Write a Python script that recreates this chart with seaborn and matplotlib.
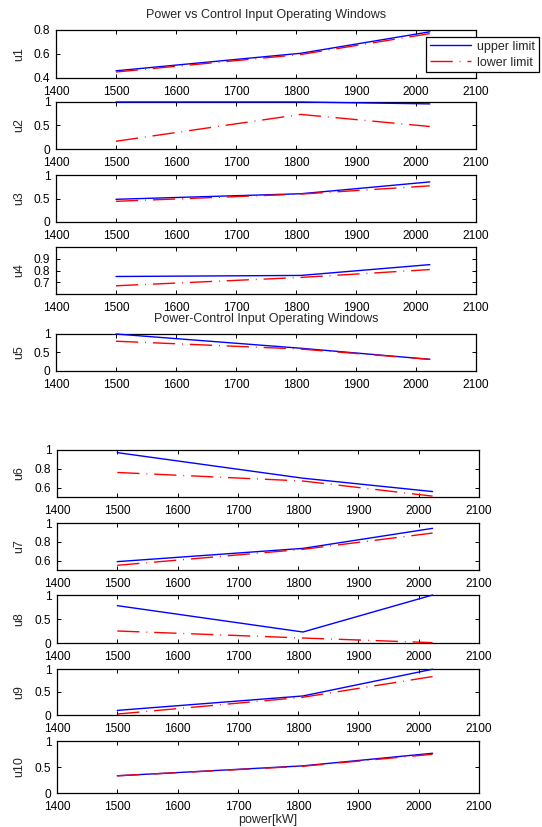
import matplotlib
matplotlib.use("Agg")
import matplotlib.pyplot as plt
import seaborn as sns
import pandas as pd
from matplotlib.lines import Line2D

# ---------------- data ----------------
power = [1500, 1808, 2023]

u1_upper = [0.46, 0.606, 0.785]
u1_lower = [0.45, 0.596, 0.77]
u2_upper = [1.0, 1.0, 0.96]
u2_lower = [0.165, 0.736, 0.479]
u3_upper = [0.483, 0.601, 0.853]
u3_lower = [0.44, 0.594, 0.769]
u4_upper = [0.749, 0.758, 0.85]
u4_lower = [0.67, 0.741, 0.808]
u5_upper = [1.0, 0.615, 0.315]
u5_lower = [0.805, 0.593, 0.315]
u6_upper = [0.972, 0.70, 0.558]
u6_lower = [0.761, 0.67, 0.509]
u7_upper = [0.589, 0.73, 0.943]
u7_lower = [0.55, 0.72, 0.893]
u8_upper = [0.778, 0.229, 1.0]
u8_lower = [0.25, 0.104, 0.007]
u9_upper = [0.10, 0.414, 0.995]
u9_lower = [0.02, 0.386, 0.836]
u10_upper = [0.331, 0.522, 0.764]
u10_lower = [0.331, 0.515, 0.745]

names = ["u1", "u2", "u3", "u4", "u5", "u6", "u7", "u8", "u9", "u10"]
uppers = [u1_upper, u2_upper, u3_upper, u4_upper, u5_upper,
          u6_upper, u7_upper, u8_upper, u9_upper, u10_upper]
lowers = [u1_lower, u2_lower, u3_lower, u4_lower, u5_lower,
          u6_lower, u7_lower, u8_lower, u9_lower, u10_lower]

ylims = [(0.4, 0.8), (0, 1), (0, 1), (0.6, 1.0), (0, 1),
         (0.5, 1.0), (0.5, 1.0), (0, 1), (0, 1), (0, 1)]
yticks = [[0.4, 0.6, 0.8], [0, 0.5, 1], [0, 0.5, 1], [0.7, 0.8, 0.9], [0, 0.5, 1],
          [0.6, 0.8, 1], [0.6, 0.8, 1], [0, 0.5, 1], [0, 0.5, 1], [0, 0.5, 1]]
yticklabels = [["0.4", "0.6", "0.8"], ["0", "0.5", "1"], ["0", "0.5", "1"],
               ["0.7", "0.8", "0.9"], ["0", "0.5", "1"], ["0.6", "0.8", "1"],
               ["0.6", "0.8", "1"], ["0", "0.5", "1"], ["0", "0.5", "1"], ["0", "0.5", "1"]]
xticks = [1400, 1500, 1600, 1700, 1800, 1900, 2000, 2100]
xticklabels = ["1400", "1500", "1600", "1700", "1800", "1900", "2000", "2100"]

title_top = "Power vs Control Input Operating Windows"
title_mid = "Power-Control Input Operating Windows"
xlabel = "power[kW]"
legend_labels = ["upper limit", "lower limit"]

# ---------------- style ----------------
sns.set_theme(style="white")
plt.rcParams["font.family"] = ["Liberation Sans", "DejaVu Sans"]
plt.rcParams["font.size"] = 8.5

W, H = 542, 827
fig = plt.figure(figsize=(W / 100, H / 100), dpi=100)
fig.patch.set_facecolor("white")

# pixel boxes (left, right, top, bottom)
boxes = [(56, 476, 30, 78), (56, 476, 102, 149), (56, 476, 175, 222),
         (56, 476, 247, 294), (56, 476, 334, 371),
         (57, 479, 450, 497), (57, 479, 523, 570), (57, 479, 595, 643),
         (57, 479, 669, 715), (57, 479, 741, 793)]

dashdot = (0, (16, 5, 0.6, 5))
axes = []
for i, (l, r, t, b) in enumerate(boxes):
    ax = fig.add_axes([l / W, 1 - b / H, (r - l) / W, (b - t) / H])
    df = pd.DataFrame({"power": power, "upper": uppers[i], "lower": lowers[i]})
    sns.lineplot(data=df, x="power", y="upper", ax=ax, color=(0, 0, 1),
                 linewidth=1.0, legend=False, zorder=3, clip_on=False)
    sns.lineplot(data=df, x="power", y="lower", ax=ax, color=(1, 0, 0),
                 linewidth=1.0, linestyle=dashdot, legend=False, zorder=3,
                 clip_on=False)
    ax.set_xlim(1400, 2100)
    ax.set_ylim(*ylims[i])
    ax.set_xticks(xticks)
    ax.set_xticklabels(xticklabels)
    ax.set_yticks(yticks[i])
    ax.set_yticklabels(yticklabels[i])
    ax.set_xlabel("")
    ax.set_ylabel(names[i], fontsize=9)
    ax.yaxis.set_label_coords((25 - l) / (r - l), 0.5)
    ax.tick_params(direction="in", length=3, width=0.7, top=True, right=True,
                   bottom=True, left=True, labelsize=8.6, colors="black")
    ax.tick_params(axis="x", pad=5.5)
    ax.tick_params(axis="y", pad=4)
    for s in ax.spines.values():
        s.set_visible(True)
        s.set_color("black")
        s.set_linewidth(0.9)
    ax.set_facecolor("white")
    ax.grid(False)
    axes.append(ax)

axes[-1].set_xlabel(xlabel, fontsize=9, labelpad=1)

fig.text(266 / W, 1 - 15 / H, title_top, ha="center", va="center", fontsize=9)
fig.text(266 / W, 1 - 319 / H, title_mid, ha="center", va="center", fontsize=9)

handles = [Line2D([], [], color=(0, 0, 1), linewidth=1.0),
           Line2D([], [], color=(1, 0, 0), linewidth=1.0, linestyle=dashdot)]
leg = fig.legend(handles, legend_labels, loc="upper left",
                 bbox_to_anchor=(426 / W, 1 - 37 / H), fontsize=9,
                 frameon=True, fancybox=False, handlelength=3.3,
                 handletextpad=0.5, borderpad=0.3, labelspacing=0.3,
                 borderaxespad=0)
leg.set_zorder(10)
leg.get_frame().set_edgecolor("black")
leg.get_frame().set_linewidth(0.9)
leg.get_frame().set_facecolor("white")
leg.get_frame().set_alpha(1)

fig.savefig("out.png", dpi=100)
